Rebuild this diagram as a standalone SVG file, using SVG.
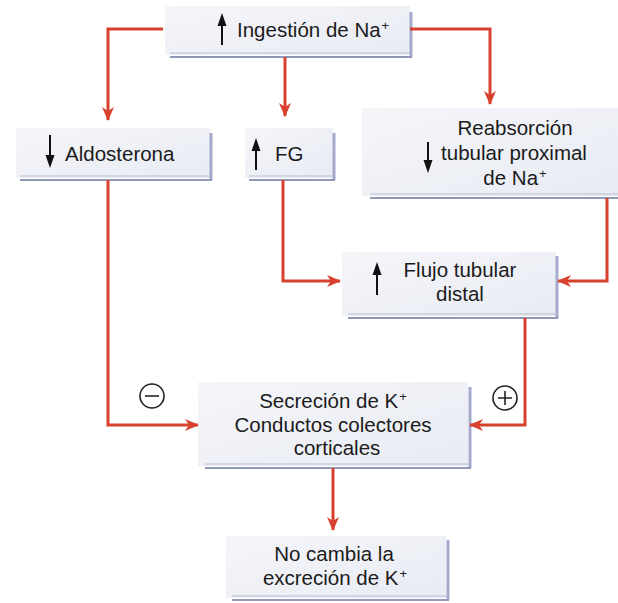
<svg xmlns="http://www.w3.org/2000/svg" width="618" height="603" viewBox="0 0 618 603">
<style>
.box{fill:url(#bg)}
.sr{stroke:#a4aacd;stroke-width:3;fill:none}
.sb{stroke:#9199bb;stroke-width:2;fill:none}
.sb2{stroke:#b8bdd3;stroke-width:1;fill:none}
.t{font-family:"Liberation Sans",Arial,sans-serif;font-size:20.5px;fill:#1b1b1b}
.c{text-anchor:middle}
.sup{font-size:13px}
.con{stroke:#d8412e;stroke-width:3;fill:none}
.ar{stroke:#111;stroke-width:2}
.sign{fill:none;stroke:#222;stroke-width:1.6}
</style>
<defs>
<linearGradient id="bg" x1="0" y1="0" x2="1" y2="1">
<stop offset="0" stop-color="#f5f6fa"/>
<stop offset="1" stop-color="#e8ebf3"/>
</linearGradient>
<marker id="ah" markerUnits="userSpaceOnUse" markerWidth="14" markerHeight="12" refX="13" refY="6" orient="auto">
<path d="M0,0 L14,6 L0,12 L4,6 Z" fill="#d8412e"/>
</marker>
</defs>
<rect width="618" height="603" fill="#ffffff"/>

<g id="n-ingestion">
<rect class="box" x="165" y="6" width="245" height="49"/>
<path class="sr" d="M411,12 V57"/>
<path class="sb" d="M170,57 H412"/>
<path class="sb2" d="M170,53 H410"/>
<line class="ar" x1="222" y1="45" x2="222" y2="22"/>
<path d="M222,13 L217.5,26 L226.5,26 Z" fill="#111"/>
<text class="t" x="237" y="37">Ingestión de Na<tspan class="sup" dx="1" dy="-7">+</tspan></text>
</g>

<g id="n-aldosterona">
<rect class="box" x="16" y="128" width="194" height="50"/>
<path class="sr" d="M211,133 V180"/>
<path class="sb" d="M20,180 H212"/>
<path class="sb2" d="M20,176 H210"/>
<line class="ar" x1="50" y1="135" x2="50" y2="158"/>
<path d="M50,168 L45.5,155 L54.5,155 Z" fill="#111"/>
<text class="t" x="65" y="161">Aldosterona</text>
</g>

<g id="n-fg">
<rect class="box" x="245" y="128" width="88" height="50"/>
<path class="sr" d="M334,133 V180"/>
<path class="sb" d="M249,180 H335"/>
<path class="sb2" d="M249,176 H333"/>
<line class="ar" x1="256" y1="170" x2="256" y2="147"/>
<path d="M256,138 L251.5,151 L260.5,151 Z" fill="#111"/>
<text class="t" x="275" y="161">FG</text>
</g>

<g id="n-reabsorcion">
<rect class="box" x="362" y="108" width="256" height="88"/>
<path class="sb" d="M370,198 H618"/>
<path class="sb2" d="M370,194 H618"/>
<line class="ar" x1="428" y1="142" x2="428" y2="163"/>
<path d="M428,173 L423.5,160 L432.5,160 Z" fill="#111"/>
<text class="t c" x="515" y="135">Reabsorción</text>
<text class="t c" x="514" y="160">tubular proximal</text>
<text class="t c" x="515" y="185">de Na<tspan class="sup" dx="1" dy="-7">+</tspan></text>
</g>

<g id="n-flujo">
<rect class="box" x="342" y="252" width="214" height="64"/>
<path class="sr" d="M557,256 V318"/>
<path class="sb" d="M348,318 H558"/>
<path class="sb2" d="M348,314 H556"/>
<line class="ar" x1="377" y1="295" x2="377" y2="272"/>
<path d="M377,262 L372.5,275 L381.5,275 Z" fill="#111"/>
<text class="t c" x="460" y="277">Flujo tubular</text>
<text class="t c" x="460" y="301">distal</text>
</g>

<g id="n-secrecion">
<rect class="box" x="198" y="382" width="270" height="84"/>
<path class="sr" d="M470,387 V468"/>
<path class="sb" d="M205,468 H471"/>
<path class="sb2" d="M205,464 H469"/>
<text class="t c" x="333" y="408">Secreción de K<tspan class="sup" dx="1" dy="-7">+</tspan></text>
<text class="t c" x="333" y="432">Conductos colectores</text>
<text class="t c" x="337" y="455">corticales</text>
</g>

<g id="n-nocambia">
<rect class="box" x="226" y="536" width="220" height="62"/>
<path class="sr" d="M448,540 V600"/>
<path class="sb" d="M232,600 H449"/>
<path class="sb2" d="M232,596 H447"/>
<text class="t c" x="334" y="561">No cambia la</text>
<text class="t c" x="335" y="585">excreción de K<tspan class="sup" dx="1" dy="-7">+</tspan></text>
</g>

<g id="connectors">
<path class="con" d="M163,29 H108 V120" marker-end="url(#ah)"/>
<path class="con" d="M410,29 H490 V104" marker-end="url(#ah)"/>
<path class="con" d="M285,57 V116" marker-end="url(#ah)"/>
<path class="con" d="M283,180 V281 H340" marker-end="url(#ah)"/>
<path class="con" d="M607,198 V281 H558" marker-end="url(#ah)"/>
<path class="con" d="M525,318 V425 H470" marker-end="url(#ah)"/>
<path class="con" d="M108,180 V425 H198" marker-end="url(#ah)"/>
<path class="con" d="M333,468 V530" marker-end="url(#ah)"/>
</g>

<g id="signs">
<circle class="sign" cx="152" cy="396" r="12"/>
<path class="sign" d="M145,396 H159"/>
<circle class="sign" cx="505" cy="398" r="12"/>
<path class="sign" d="M498,398 H512 M505,391 V405"/>
</g>
</svg>
